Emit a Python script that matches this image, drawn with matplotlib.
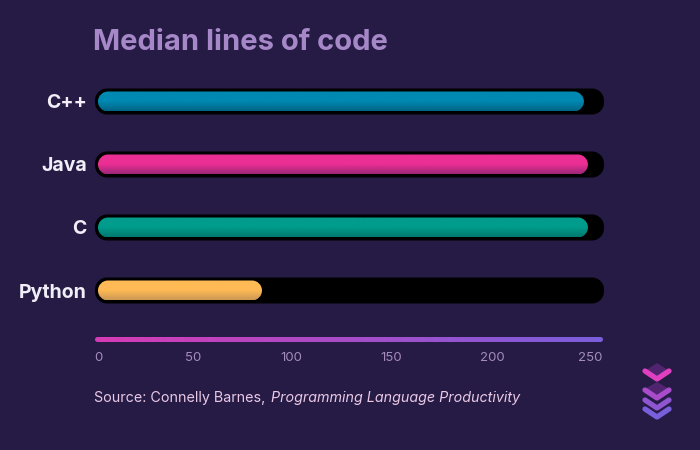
# -*- coding: utf-8 -*-
"""Median lines of code per language, as pill-shaped bars on a dark panel."""

import numpy as np
import matplotlib
matplotlib.use("Agg")
import matplotlib.pyplot as plt
from matplotlib.colors import LinearSegmentedColormap
from matplotlib.patches import PathPatch
from matplotlib.path import Path
from matplotlib.lines import Line2D
from matplotlib.transforms import Affine2D, IdentityTransform, blended_transform_factory

languages = ["C++", "Java", "C", "Python"]
median_lines = [241.5, 243.5, 243.5, 81.5]
x_ticks = [0, 50, 100, 150, 200, 250]

# top and bottom colour of each bar
bar_tops = ["#0089B2", "#EC2F94", "#009C8C", "#FFBA55"]
bar_bottoms = ["#006585", "#9C2678", "#00796E", "#CC9855"]

BG = "#251B45"
W, H = 700, 450

plt.rcParams["font.family"] = ["Inter", "DejaVu Sans"]

fig = plt.figure(figsize=(W / 100, H / 100), dpi=100, facecolor=BG)
# axes box: x from 98 to 601 px, rows from 70 to 322 px
ax = fig.add_axes([98 / W, 1 - 322 / H, 503 / W, 252 / H])
ax.set_facecolor("none")
ax.set_xlim(0, 250)
ax.set_ylim(3.5, -0.5)
for s in ax.spines.values():
    s.set_visible(False)

ax.set_yticks(range(len(languages)))
ax.set_yticklabels(languages, fontsize=14, fontweight="bold", color="#F1EEF8")
ax.tick_params(axis="y", length=0, pad=8)
ax.set_xticks([])

# top-left pixel coordinates for everything outside the data
px = Affine2D().scale(1, -1).translate(0, H)


def pill(x0, y0, x1, y1, r, **kw):
    # display-space rounded box with true circular corners
    k = r * 0.5523
    verts = [(x0 + r, y0), (x1 - r, y0),
             (x1 - r + k, y0), (x1, y0 + r - k), (x1, y0 + r),
             (x1, y1 - r),
             (x1, y1 - r + k), (x1 - r + k, y1), (x1 - r, y1),
             (x0 + r, y1),
             (x0 + r - k, y1), (x0, y1 - r + k), (x0, y1 - r),
             (x0, y0 + r),
             (x0, y0 + r - k), (x0 + r - k, y0), (x0 + r, y0),
             (x0 + r, y0)]
    codes = [Path.MOVETO, Path.LINETO,
             Path.CURVE4, Path.CURVE4, Path.CURVE4,
             Path.LINETO,
             Path.CURVE4, Path.CURVE4, Path.CURVE4,
             Path.LINETO,
             Path.CURVE4, Path.CURVE4, Path.CURVE4,
             Path.LINETO,
             Path.CURVE4, Path.CURVE4, Path.CURVE4,
             Path.CLOSEPOLY]
    return PathPatch(Path(verts, codes), transform=IdentityTransform(), linewidth=0, **kw)


for i, val in enumerate(median_lines):
    xc, yc = ax.transData.transform((0, i))
    xe, _ = ax.transData.transform((val, i))
    track = pill(95, yc - 13, 604, yc + 13, 12, facecolor="black", zorder=1, clip_on=False)
    ax.add_patch(track)

    shape = pill(xc, yc - 10, xe, yc + 10, 10, facecolor="none", zorder=2, clip_on=False)
    ax.add_patch(shape)
    cmap = LinearSegmentedColormap.from_list("bar", [bar_tops[i], bar_tops[i], bar_bottoms[i]])
    grad = np.linspace(0, 1, 64).reshape(-1, 1)
    im = ax.imshow(grad, cmap=cmap, aspect="auto", zorder=3, origin="upper",
                   extent=(0, val, i + 10 / 63, i - 10 / 63), interpolation="bilinear")
    im.set_clip_path(shape)

ax.set_xlim(0, 250)
ax.set_ylim(3.5, -0.5)

# value axis drawn as a gradient rod
rod_cmap = LinearSegmentedColormap.from_list("rod", ["#D63BB5", "#7A5FDC"])
rod_ax = fig.add_axes([95 / W, 1 - 342 / H, 508 / W, 5 / H])
rod_ax.axis("off")
rod_shape = pill(95, H - 342, 603, H - 337, 2.5, facecolor="none")
rod_ax.add_patch(rod_shape)
rod = rod_ax.imshow(np.linspace(0, 1, 256).reshape(1, -1), cmap=rod_cmap, aspect="auto")
rod.set_clip_path(rod_shape)

# tick labels are spread evenly across the rod, so each sits a little left of its value
tick_shift = [0, -5.5, -8, -9, -8, -11]
tick_tr = blended_transform_factory(ax.transData, px)
for t, dx in zip(x_ticks, tick_shift):
    ax.annotate(str(t), xy=(t, 358), xycoords=tick_tr, xytext=(dx, 0), textcoords="offset pixels",
                ha="center", va="center", fontsize=9.5, color="#A48BBE", annotation_clip=False)

fig.text(93, 42, "Median lines of code", transform=px, fontsize=21, fontweight="bold",
         color="#A688C8", ha="left", va="center")

src = fig.text(94, 398, "Source: Connelly Barnes, ", transform=px, fontsize=10.3,
               color="#EBC9E6", ha="left", va="center")
fig.canvas.draw()
src_end = src.get_window_extent().x1
fig.text(src_end + 2, 398, "Programming Language Productivity", transform=px, fontsize=10.3,
         fontstyle="italic", color="#EBC9E6", ha="left", va="center")

# stacked chevron mark, bottom right
mark_colors = ["#E03FC0", "#A84CCB", "#9055D0", "#7A5FDC"]
mark_tips = [379, 398, 408, 417]
fig.add_artist(plt.Polygon([(643, 372), (657, 363), (671, 372), (657, 381)], closed=True,
                           transform=px, facecolor="#50246F", edgecolor="none"))
fig.add_artist(plt.Polygon([(643, 390), (657, 382), (671, 390), (657, 399)], closed=True,
                           transform=px, facecolor="#50246F", edgecolor="none"))
for c, tip in zip(mark_colors[::-1], mark_tips[::-1]):
    fig.add_artist(Line2D([645, 657, 669], [tip - 8, tip, tip - 8], transform=px, color=c,
                          linewidth=3.8, solid_capstyle="round", solid_joinstyle="round"))

fig.savefig("out.png", dpi=100, facecolor=BG)
